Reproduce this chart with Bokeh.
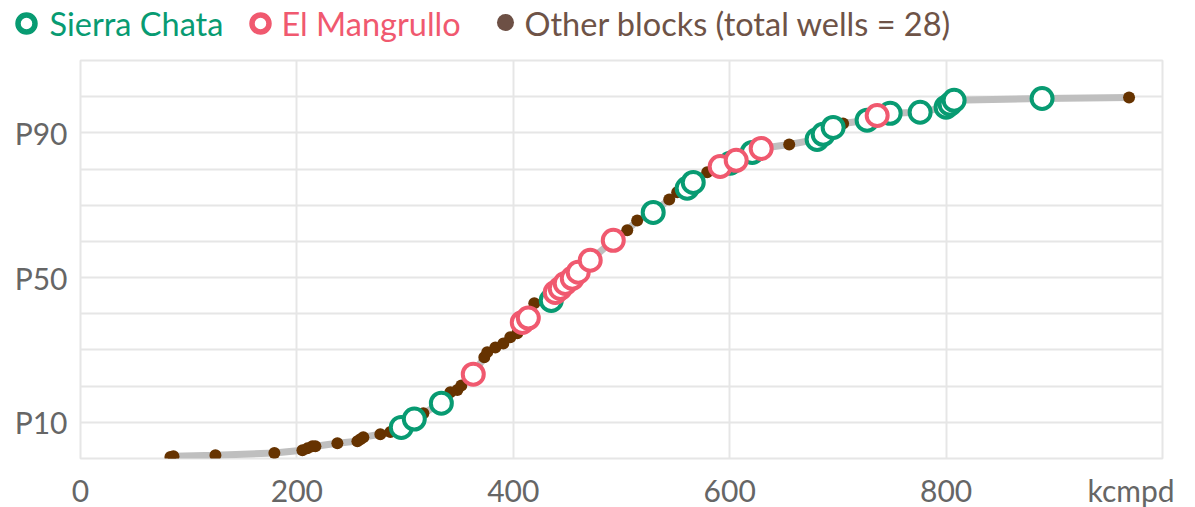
from bokeh.plotting import figure
from bokeh.models import Range1d, FixedTicker
from bokeh.embed import file_html
from bokeh.resources import INLINE
from bokeh.core.properties import value

# ---------------- data ----------------
sierra_x = [296.5, 308.5, 333.5, 435.1, 529.3, 560.7, 566.3, 600.5, 620.8, 680.8,
            686.4, 695.6, 727.0, 748.3, 776.0, 800.0, 803.7, 807.4, 888.7]
sierra_y = [8.6, 10.9, 15.3, 43.7, 68.0, 74.7, 76.3, 81.6, 84.6, 88.2,
            89.6, 91.5, 93.5, 95.4, 95.7, 97.1, 97.9, 99.0, 99.5]

mangrullo_x = [363.0, 408.3, 413.9, 438.8, 443.4, 448.0, 454.5, 460.0, 471.1, 492.4,
               591.2, 606.0, 629.1, 736.3]
mangrullo_y = [23.3, 37.6, 38.8, 45.9, 47.0, 48.4, 49.8, 51.5, 54.8, 60.3,
               80.7, 82.4, 85.7, 94.8]

other_x = [83.1, 85.9, 124.7, 179.2, 205.1, 209.7, 214.3, 217.1, 237.4, 255.9,
           258.7, 261.4, 277.1, 286.4, 316.9, 341.8, 348.3, 352.0, 373.2, 375.9,
           383.4, 390.8, 397.2, 403.7, 419.4, 505.3, 514.5, 544.1, 551.5, 579.2,
           655.0, 704.8, 969.1]
other_y = [0.4, 0.6, 0.9, 1.5, 2.3, 2.8, 3.4, 3.4, 4.2, 4.8,
           5.3, 5.9, 6.7, 7.3, 12.5, 18.3, 18.9, 20.2, 28.0, 29.4,
           30.7, 31.8, 33.5, 34.6, 42.9, 63.1, 65.8, 71.6, 73.6, 79.1,
           86.8, 92.6, 99.8]

series_names = ["Sierra Chata", "El Mangrullo", "Other blocks (total wells = 28)"]
x_ticks = [0, 200, 400, 600, 800]
x_unit_label = "kcmpd"
y_ticks = [10, 50, 90]
y_tick_labels = ["P10", "P50", "P90"]

# ---------------- styles ----------------
FONT = "Lato"
GREEN = "#089b72"
RED = "#f0596f"
BROWN = "#663300"
LEG_BROWN = "#6d5045"
LEG_BROWN_TXT = "#6e5347"
LINE = "#bfbfbf"
GRID = "#e6e6e6"
TICK = "#666666"

# ---------------- legend strip (separate root, no frame alignment) ----------------
LEG_W, LEG_H = 1190, 48
leg = figure(width=LEG_W, height=LEG_H, x_range=Range1d(0, LEG_W), y_range=Range1d(LEG_H, 0),
             output_backend="svg", toolbar_location=None, min_border=0,
             x_axis_location=None, y_axis_location=None)
leg.grid.visible = False
leg.outline_line_color = None

leg_marker_x = [26, 260, 505]
leg_text_x = [49, 281, 524]
leg.scatter(leg_marker_x[:1], [23], size=17, fill_color="white", line_color=GREEN, line_width=5.5)
leg.scatter(leg_marker_x[1:2], [23], size=17, fill_color="white", line_color=RED, line_width=5.5)
leg.scatter(leg_marker_x[2:], [22], size=17, fill_color=LEG_BROWN, line_color=None)
for tx, name, col in zip(leg_text_x, series_names, [GREEN, RED, LEG_BROWN_TXT]):
    leg.text([tx], [23], text=[name], text_font=value(FONT), text_font_size="32.5px",
             text_color=col, text_baseline="middle", text_align="left")

# ---------------- main chart ----------------
p = figure(frame_width=1082, frame_height=398,
           x_range=Range1d(0, 1000), y_range=Range1d(0, 110),
           output_backend="svg", toolbar_location=None,
           min_border_left=80, min_border_right=25,
           min_border_top=60 - LEG_H, min_border_bottom=0)

all_pts = sorted(list(zip(sierra_x, sierra_y)) + list(zip(mangrullo_x, mangrullo_y)) +
                 list(zip(other_x, other_y)))
p.line([a for a, _ in all_pts], [b for _, b in all_pts], line_color=LINE, line_width=7)

p.scatter(other_x, other_y, size=12, fill_color=BROWN, line_color=None)
p.scatter(sierra_x, sierra_y, size=21, fill_color="white", line_color=GREEN, line_width=4)
p.scatter(mangrullo_x, mangrullo_y, size=21, fill_color="white", line_color=RED, line_width=4)

# axes
p.xaxis.ticker = FixedTicker(ticks=x_ticks + [971])
p.xaxis.major_label_overrides = {971: x_unit_label}
p.yaxis.ticker = FixedTicker(ticks=y_ticks)
p.yaxis.major_label_overrides = {t: l for t, l in zip(y_ticks, y_tick_labels)}
for ax in (p.xaxis, p.yaxis):
    ax.axis_line_color = None
    ax.major_tick_line_color = None
    ax.minor_tick_line_color = None
    ax.major_label_text_font = FONT
    ax.major_label_text_font_size = "30px"
    ax.major_label_text_color = TICK
p.xaxis.major_label_standoff = 7
p.yaxis.major_label_standoff = 7

p.xgrid.ticker = FixedTicker(ticks=[0, 200, 400, 600, 800, 1000])
p.ygrid.ticker = FixedTicker(ticks=list(range(0, 111, 10)))
p.grid.grid_line_color = GRID
p.grid.grid_line_width = 2
p.outline_line_color = GRID
p.outline_line_width = 2

open("out.html", "w").write(file_html([leg, p], INLINE))
